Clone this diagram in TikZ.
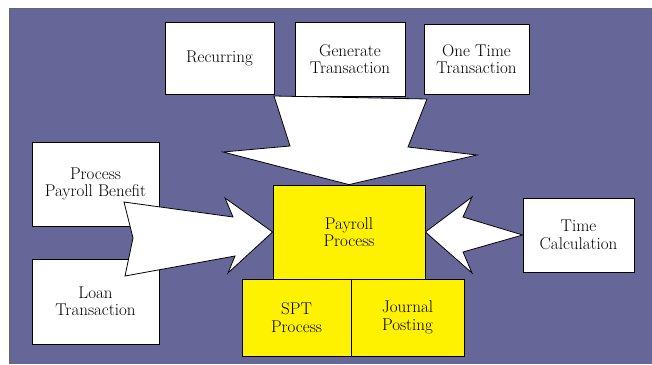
\documentclass[tikz,border=0pt]{standalone}
\definecolor{slate}{RGB}{102,102,153}
\tikzset{
  box/.style={draw=black,line width=0.8pt,fill=white,inner sep=0pt,align=center,
    font=\fontsize{17}{17.5}\selectfont},
  ybox/.style={box,fill=yellow},
  fat/.style={draw=black,line width=0.8pt,fill=white,line join=miter}
}

\begin{document}
\begin{tikzpicture}[x=1pt,y=-1pt]
        \useasboundingbox (0,0) rectangle (652,364);
        \fill[slate] (9,8) rectangle (652,364);
        \draw[black!60,line width=1pt] (9,364) -- (9,8) -- (652,8);
        % inputs
        \node[box,minimum width=109pt,minimum height=72pt] (recur) at (219.5,58) {Recurring};
        \node[box,minimum width=110pt,minimum height=74pt] (gen) at (350,59) {Generate\\Transaction};
        \node[box,minimum width=105pt,minimum height=70pt] (once) at (476.5,59) {One Time\\Transaction};
        \node[box,minimum width=127pt,minimum height=84pt] (benefit) at (95.5,184) {Process\\Payroll Benefit};
        \node[box,minimum width=127pt,minimum height=85pt] (loan) at (95.5,301.5) {Loan\\Transaction};
        \node[box,minimum width=111pt,minimum height=74pt] (time) at (578.5,235) {Time\\Calculation};
        % payroll block
        \node[ybox,minimum width=152pt,minimum height=94pt] (pay) at (349,232) {Payroll\\Process};
        \node[ybox,minimum width=109pt,minimum height=77pt] (spt) at (296.5,317.5) {SPT\\Process};
        \node[ybox,minimum width=113pt,minimum height=77pt] (jrnl) at (407.5,317.5) {Journal\\Posting};
        % big arrows
        \draw[fat] (274,96) -- (290,146) -- (223,152) -- (pay.north) -- (477,155) -- (408,147) -- (427,99) -- cycle;
        \draw[fat] (124,202) -- (233,217) -- (225,198) -- (pay.west) -- (228,273) -- (235,256) -- (125,276) -- (133,238) -- cycle;
        \draw[fat] (time.west) -- (463,217) -- (472,197) -- (pay.east) -- (472,273) -- (463,252) -- cycle;
\end{tikzpicture}
\end{document}
